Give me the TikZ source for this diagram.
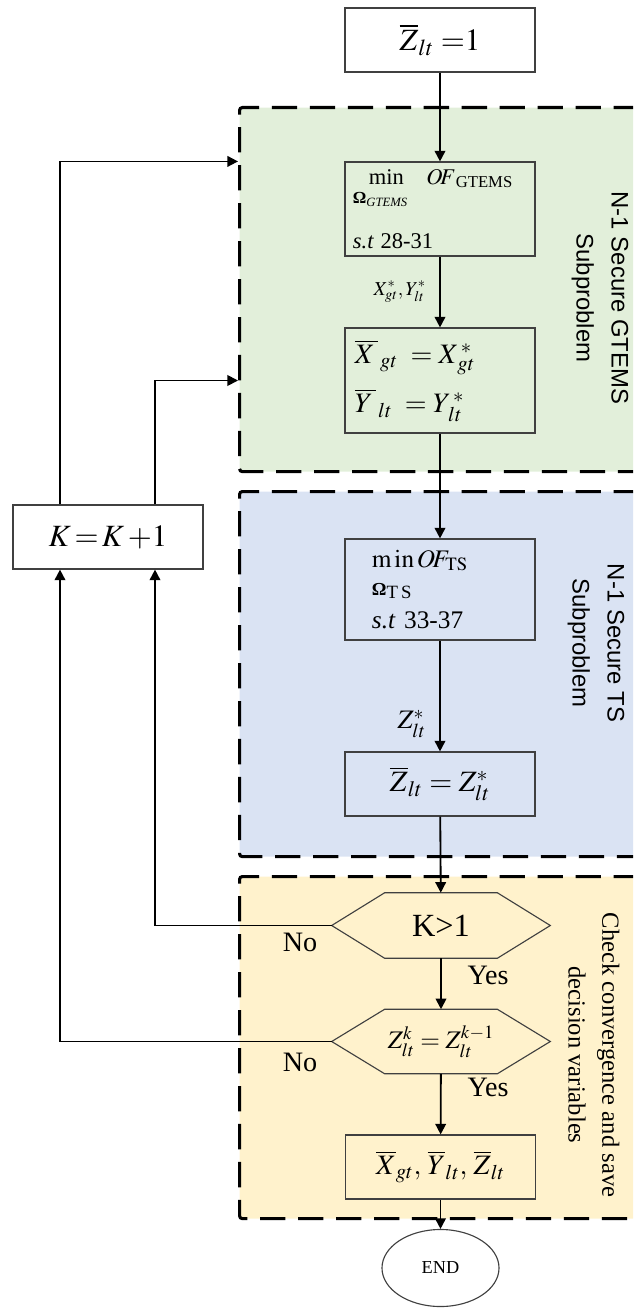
\documentclass[tikz,border=0pt]{standalone}
\usepackage{mathptmx}
\usepackage[no-math]{fontspec}
\setmainfont{Liberation Serif}
\newfontfamily\sansfont{Liberation Sans}
\usetikzlibrary{positioning,arrows.meta,shapes.geometric}
\definecolor{gtgreen}{RGB}{226,239,218}
\definecolor{tsblue}{RGB}{218,227,243}
\definecolor{chkyellow}{RGB}{255,242,204}
\definecolor{boxgray}{RGB}{64,64,64}
\newcommand\fsz[1]{\fontsize{#1}{#1}\selectfont}

\begin{document}
\begin{tikzpicture}[x=0.025cm,y=-0.025cm,
  region/.style={draw,line width=2.2pt,dash pattern=on 18pt off 9pt,rounded corners=2pt,
    anchor=north west,minimum width=11cm,inner sep=0pt},
  stepbox/.style={draw=boxgray,line width=0.8pt,minimum width=4.75cm,minimum height=1.6cm,inner sep=0pt},
  hexline/.style={draw=boxgray,line width=0.8pt},
  arr/.style={-{Triangle[length=7.5pt,width=7.5pt]},line width=1.3pt},
  lbl/.style={font=\fsz{20}}]
  % frame
  \useasboundingbox (0,0) rectangle (633,1308);
  \clip (0,0) rectangle (633,1308);
  % subproblem regions
  \node[region,fill=gtgreen,minimum height=9.1cm] (gtems) at (238,106) {};
  \node[region,fill=tsblue,minimum height=9.125cm] (ts) at (238,490) {};
  \node[region,fill=chkyellow,minimum height=8.55cm] (check) at (238,875) {};
  \node[rotate=-90,align=center,font=\sansfont\fontsize{17}{25}\selectfont] (gtemsttl) at (600,298)
    {N-1 Secure GTEMS\\Subproblem};
  \node[rotate=-90,align=center,font=\sansfont\fontsize{17}{25}\selectfont] (tsttl) at (596,643)
    {N-1 Secure TS\\Subproblem};
  \node[rotate=-90,align=center,font=\fontsize{17.5}{24}\selectfont] (chkttl) at (594,1055)
    {Check convergence and save\\decision variables};
  % loop helpers
  \coordinate (outer) at (60,0);
  \coordinate (inner) at (155,0);
  % flow boxes
  \node[stepbox,fill=white,font=\fsz{22}] (zinit) at (440,40) {$\overline{Z}_{lt}\;{=}1$};
  \node[stepbox,minimum height=2.35cm,text width=4.35cm,inner xsep=0.2cm,align=left,
    font=\fontsize{14}{14}\selectfont] (optg) at (440,209)
    {{\fsz{16}\hspace*{0.4cm}min\quad$O\!F$\textsubscript{GTEMS}}\\
     {\fsz{12}\textbf{Ω}\textsubscript{\textit{GTEMS}}}\\[18pt]
     {\fsz{16}\textit{s.t}\ 28-31}};
  \node[stepbox,minimum height=2.625cm,text width=4.25cm,inner xsep=0.25cm,align=left,
    font=\fontsize{20}{35}\selectfont] (xbox) at (440,380.5)
    {$\overline{X\,}_{\,gt}\;=X^{\,*}_{\,gt}$\\$\overline{Y\,}_{\,lt}\;=Y^{\,*}_{\,lt}$};
  \node[stepbox,minimum height=2.525cm,text width=3.4cm,inner xsep=0.675cm,align=left,
    font=\fontsize{18}{20}\selectfont] (tsopt) at (440,589.5)
    {$\mathrm{m\,in}\,O\!F_{\mathrm{TS}}$\\
     {\fsz{13}\textbf{Ω}}\textsubscript{T\,S}\\[4pt]
     \textit{s.t}\ 33-37};
  \node[stepbox,font=\fsz{21}] (zbox) at (440,784) {$\overline{Z}_{lt}=Z^{*}_{lt}$};
  \node[minimum width=5.45cm,minimum height=1.625cm,inner sep=0pt,font=\fsz{23}] (kgt) at (441,925.5) {K>1};
  \node[minimum width=5.45cm,minimum height=1.6cm,inner sep=0pt,font=\fsz{18}] (zeq) at (441,1041.5)
    {$Z^{k}_{lt}=Z^{k-1}_{lt}$};
  \node[stepbox,font=\fsz{20}] (fin) at (440.5,1167)
    {$\overline{X}_{gt},\,\overline{Y}_{lt},\,\overline{Z}_{lt}$};
  \node[ellipse,draw=boxgray,line width=0.8pt,fill=white,minimum width=2.925cm,minimum height=1.925cm,
    inner sep=0pt,font=\fsz{13}] (endn) at (440.5,1268) {END};
  \node[stepbox,fill=white,font=\fsz{22}] (kbox) at (108,537) {$K\,{=}\,K\,{+}1$};
  % hexagon outlines
  \foreach \h in {kgt,zeq}
    \draw[hexline] (\h.west) -- ([xshift=1.325cm]\h.north west) -- ([xshift=-1.325cm]\h.north east)
      -- (\h.east) -- ([xshift=-1.325cm]\h.south east) -- ([xshift=1.325cm]\h.south west) -- cycle;
  % main flow
  \draw[arr] (zinit) -- (optg);
  \draw[arr] (optg) -- node[left=6pt,font=\fsz{14}] (xylbl) {$X^{*}_{gt},Y^{*}_{lt}$} (xbox);
  \draw[arr] (xbox) -- (tsopt);
  \draw[arr] (tsopt) -- node[pos=0.75,left=6pt,font=\fsz{19}] (zlbl) {$Z^{*}_{lt}$} (zbox);
  \draw[arr] (zbox) -- (kgt);
  \draw[arr] (kgt) -- (zeq);
  \draw[arr] (zeq) -- (fin);
  \draw[arr] (fin) -- (endn);
  % decision labels
  \node[lbl] (no1) at (300,942) {No};
  \node[lbl] (no2) at (300,1062) {No};
  \node[lbl] (yes1) at (488,975) {Yes};
  \node[lbl] (yes2) at (488,1087) {Yes};
  % feedback loops
  \draw[arr] (kgt.west) -| (kbox.south -| inner);
  \draw[arr] (zeq.west) -| (kbox.south -| outer);
  \draw[arr] (kbox.north -| outer) |- (gtems.west |- optg.north);
  \draw[arr] (kbox.north -| inner) |- (gtems.west |- xbox);
\end{tikzpicture}
\end{document}
